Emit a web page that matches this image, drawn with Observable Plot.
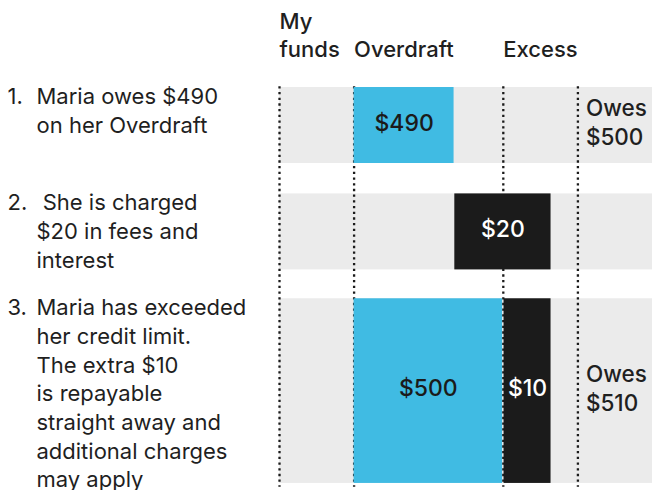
<!DOCTYPE html>
<html>
<head>
<meta charset="utf-8">
<script src="https://cdn.jsdelivr.net/npm/d3@7"></script>
<script src="https://cdn.jsdelivr.net/npm/@observablehq/plot@0.6"></script>
<style>
  html, body { margin: 0; padding: 0; background: #fff; }
  #chart svg { display: block; }
</style>
</head>
<body>
<div id="chart"></div>
<script>
// ---- Data ----
const steps = ["1.", "2.", "3."];
const descriptions = [
  "Maria owes $490\non her Overdraft",
  "\u00a0She is charged\n$20 in fees and\ninterest",
  "Maria has exceeded\nher credit limit.\nThe extra $10\nis repayable\nstraight away and\nadditional charges\nmay apply"
];
// schematic row extents (row units)
const rowTop = [0, 1.4, 2.78];
const rowBottom = [1, 2.4, 5.21];

// column headers and boundaries (schematic column units)
const columns = ["My\nfunds", "Overdraft", "Excess"];
const columnStart = [0, 1, 3];
const columnEdges = [0, 1, 3, 4];

// bar segments
const segRow = [0, 1, 2, 2];
const segStart = [1, 2.35, 1, 3.01];
const segEnd = [2.34, 3.64, 2.99, 3.64];
const segLabel = ["$490", "$20", "$500", "$10"];
const segKind = ["overdraft", "charge", "overdraft", "charge"];

// totals
const owesRow = [0, 2];
const owesLabel = ["Owes\n$500", "Owes\n$510"];

// ---- Build ----
const fillFor = {overdraft: "#40bbe3", charge: "#1b1b1b"};
const textFor = {overdraft: "#1b1b1b", charge: "#ffffff"};
const ink = "#1f1f1f";
const rows = d3.range(steps.length);
const segs = d3.range(segLabel.length);
const cols = d3.range(columns.length);
const owes = d3.range(owesLabel.length);

const chart = Plot.plot({
  width: 652,
  height: 490,
  margin: 0,
  x: {domain: [-3.74, 5], range: [0, 652], axis: null},
  y: {domain: [-1.145, 5.303], range: [0, 490], axis: null},
  style: {fontFamily: "Inter, 'Noto Sans', sans-serif", background: "#fff"},
  marks: [
    // grey row bands
    Plot.rect(rows, {
      x1: () => columnEdges[0], x2: () => 5,
      y1: i => rowTop[i], y2: i => rowBottom[i],
      fill: "#ebebeb"
    }),
    // dotted column dividers
    Plot.ruleX(columnEdges, {
      y1: () => rowTop[0] - 0.01, y2: () => rowBottom[2] + 0.05,
      stroke: "#1b1b1b", strokeWidth: 2.3, strokeDasharray: "2.3 3.4"
    }),
    // bar segments
    Plot.rect(segs, {
      x1: i => segStart[i], x2: i => segEnd[i],
      y1: i => rowTop[segRow[i]], y2: i => rowBottom[segRow[i]],
      fill: i => fillFor[segKind[i]]
    }),
    Plot.text(segs, {
      x: i => (segStart[i] + segEnd[i]) / 2,
      y: i => (rowTop[segRow[i]] + rowBottom[segRow[i]]) / 2,
      text: i => segLabel[i],
      fill: i => textFor[segKind[i]],
      fontSize: 23, fontWeight: 500, lineAnchor: "middle", dy: -2
    }),
    // column headers
    Plot.text(cols, {
      x: i => columnStart[i], frameAnchor: "top",
      text: i => columns[i],
      textAnchor: "start", lineAnchor: "bottom", dy: 56,
      fontSize: 22, fontWeight: 500, lineHeight: 1.27, fill: ink
    }),
    // totals
    Plot.text(owes, {
      x: i => columnEdges[3], dx: 8,
      y: i => (rowTop[owesRow[i]] + rowBottom[owesRow[i]]) / 2,
      text: i => owesLabel[i],
      textAnchor: "start", lineAnchor: "middle", dy: -4,
      fontSize: 22.5, fontWeight: 500, lineHeight: 1.29, fill: ink
    }),
    // step numbers
    Plot.text(rows, {
      frameAnchor: "left", dx: 7,
      y: i => rowTop[i],
      text: i => steps[i],
      textAnchor: "start", lineAnchor: "top", dy: -4,
      fontSize: 22, lineHeight: 1.305, fill: ink
    }),
    // descriptions
    Plot.text(rows, {
      frameAnchor: "left", dx: 36,
      y: i => rowTop[i],
      text: i => descriptions[i],
      textAnchor: "start", lineAnchor: "top", dy: -4,
      fontSize: 22, lineHeight: 1.305, fill: ink
    })
  ]
});
document.getElementById("chart").appendChild(chart);
</script>
</body>
</html>
